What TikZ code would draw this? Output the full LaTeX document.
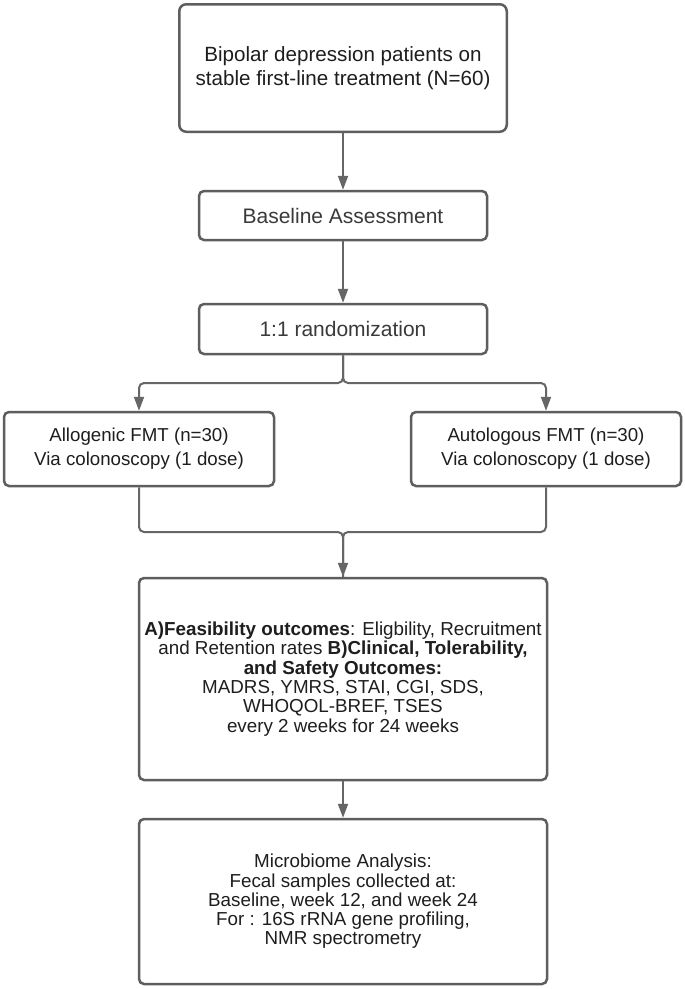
\documentclass[tikz,border=0pt]{standalone}
\usepackage{fontspec}
\setmainfont{Liberation Sans}
\usetikzlibrary{arrows.meta}
\definecolor{boxline}{HTML}{5E5E5E}
\definecolor{connline}{HTML}{666666}
\definecolor{txtdark}{HTML}{1E1E1E}
\definecolor{txtgray}{HTML}{3A3A3A}
\tikzset{
  box/.style={draw=boxline, line width=2.5pt, rounded corners=5pt, fill=white,
    align=center, text=txtdark, inner sep=0pt, anchor=center},
  conn/.style={draw=connline, line width=2pt, rounded corners=5pt,
    -{Triangle[width=10pt,length=14pt]}},
  connplain/.style={draw=connline, line width=2pt, rounded corners=5pt},
}
\begin{document}
\begin{tikzpicture}[x=1pt,y=-1pt]
\useasboundingbox[fill=white] (0,0) rectangle (685,989);

\node[box, rounded corners=7pt, minimum width=327.5pt, minimum height=127.5pt,
  font=\fontsize{20.6}{24}\selectfont] (top) at (343,68)
  {Bipolar depression patients on\\stable first-line treatment (N=60)};

\node[box, minimum width=288pt, minimum height=49pt, text=txtgray,
  font=\fontsize{21}{24}\selectfont] (base) at (343,215.5) {Baseline Assessment};

\node[box, minimum width=288pt, minimum height=50pt, text=txtgray,
  font=\fontsize{21}{24}\selectfont] (rand) at (343,329) {1:1 randomization};

\node[box, minimum width=270pt, minimum height=74pt,
  font=\fontsize{18.7}{24}\selectfont] (allo) at (139,449)
  {Allogenic FMT (n=30)\\Via colonoscopy (1 dose)};

\node[box, minimum width=270pt, minimum height=74pt,
  font=\fontsize{18.7}{24}\selectfont] (auto) at (546,449)
  {Autologous FMT (n=30)\\Via colonoscopy (1 dose)};

\node[box, minimum width=408pt, minimum height=202pt,
  font=\fontsize{18.8}{19.3}\selectfont] (outc) at (343,679)
  {\textbf{A)Feasibility outcomes}: Eligbility, Recruitment\\
   and Retention rates \textbf{B)Clinical, Tolerability,}\\
   \textbf{and Safety Outcomes:}\\
   MADRS, YMRS, STAI, CGI, SDS,\\
   WHOQOL-BREF, TSES\\
   every 2 weeks for 24 weeks};

\node[box, minimum width=408pt, minimum height=165pt,
  font=\fontsize{18.8}{19.3}\selectfont] (micro) at (343,901.5)
  {Microbiome Analysis:\\
   Fecal samples collected at:\\
   Baseline, week 12, and week 24\\
   For : 16S rRNA gene profiling,\\
   NMR spectrometry};

\coordinate (split) at (343,383);
\coordinate (join) at (343,532);

\draw[conn] (top.south) -- (base.north);
\draw[conn] (base.south) -- (rand.north);
\draw[conn] (rand.south) |- (split) -| (allo.north);
\draw[conn] (rand.south) |- (split) -| (auto.north);
\draw[connplain] (allo.south) |- (join) -- (outc.north);
\draw[conn] (auto.south) |- (join) -- (outc.north);
\draw[conn] (outc.south) -- (micro.north);
\end{tikzpicture}
\end{document}
